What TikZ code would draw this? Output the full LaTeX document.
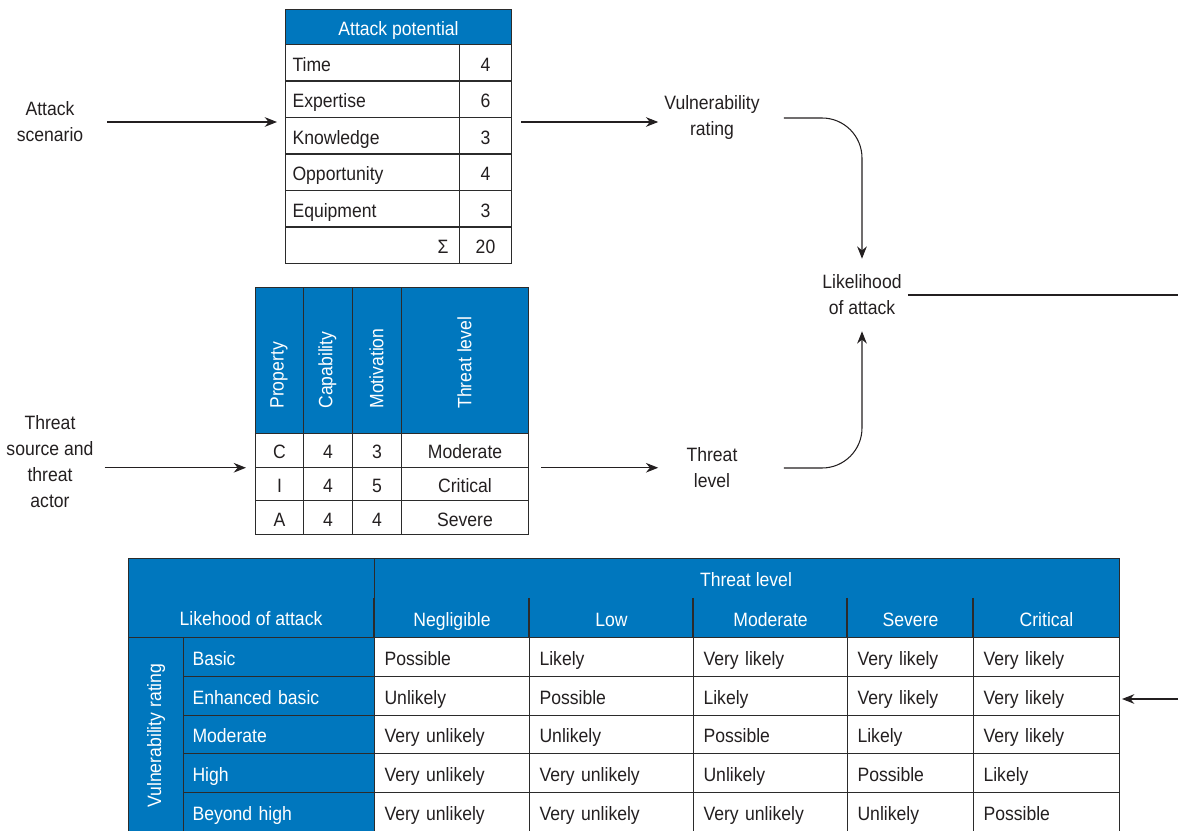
\documentclass[tikz,border=0pt]{standalone}
\usepackage{fontspec}
\setmainfont{Liberation Sans}[FakeStretch=0.91]
\usetikzlibrary{arrows.meta}
\definecolor{hdblue}{HTML}{0077BE}
\definecolor{ink}{HTML}{231F20}
\definecolor{rule}{HTML}{2B2B2B}
\def\pu{0.02cm}

\newcommand\likerow[2]{%
  \foreach \t [count=\j] in {#2} {
    \pgfmathsetmacro\cx{{374,529,693,847,973}[\j-1]}
    \pgfmathsetmacro\cw{{155,164,154,126,146}[\j-1]}
    \pgfmathsetmacro\tw{(\cw-20)*0.02}
    \node[cell,fill=white,minimum width=\cw*\pu,minimum height=38.8*\pu,text width=\tw cm,align=left]
      (lc#1\j) at (\cx,{637+(#1-1)*38.8}) {\t};
  }}

\begin{document}
\begin{tikzpicture}[x=\pu,y=-\pu,font=\fontsize{11}{14.8}\selectfont]
  \tikzset{cell/.style={draw=rule,line width=0.6pt,anchor=north west,inner sep=0pt,text=ink,
      text height=9.6pt,text depth=0pt},
    bcell/.style={cell,fill=hdblue,text=white},
    lbl/.style={align=center,text=ink},
    arr/.style={-{Stealth[length=7pt,width=5.5pt]},line width=0.6pt,draw=ink}}
  \useasboundingbox (0,0) rectangle (1178,831);

  \node[lbl] (scen) at (50,122) {Attack\\scenario};
  \node[lbl] (src) at (50,462) {Threat\\source and\\threat\\actor};
  \node[lbl] (vul) at (712,118) {Vulnerability\\rating};
  \node[lbl] (thr) at (712,468) {Threat\\level};
  \node[lbl] (like) at (862,295) {Likelihood\\of attack};
  \coordinate (rt) at (1178,295);
  \coordinate (rb) at (1178,699);

  \node[bcell,minimum width=226*\pu,minimum height=35*\pu] (aph) at (285,9) {Attack potential};
  \foreach \n/\v [count=\i] in {Time/4,Expertise/6,Knowledge/3,Opportunity/4,Equipment/3} {
    \node[cell,minimum width=174*\pu,minimum height=36.5*\pu,text width=160*\pu,align=left] (apn\i) at (285,{44+(\i-1)*36.5}) {\n};
    \node[cell,minimum width=52*\pu,minimum height=36.5*\pu] (apv\i) at (459,{44+(\i-1)*36.5}) {\v};
  }
  \node[cell,minimum width=174*\pu,minimum height=36.5*\pu,text width=152*\pu,align=right] (apn6) at (285,{44+5*36.5}) {Σ};
  \node[cell,minimum width=52*\pu,minimum height=36.5*\pu] (apv6) at (459,{44+5*36.5}) {20};

  \foreach \t/\x/\w [count=\i] in {Property/255/48,Capability/303/49,Motivation/352/49,Threat level/401/127} {
    \node[bcell,minimum width=\w*\pu,minimum height=146*\pu] (tth\i) at (\x,287) {};
    \node[rotate=90,anchor=west,inner sep=0pt,text=white] (ttl\i) at ({\x+\w/2},409) {\t};
  }
  \foreach \a/\b/\c/\d [count=\i] in {C/4/3/Moderate,I/4/5/Critical,A/4/4/Severe} {
    \node[cell,minimum width=48*\pu,minimum height=33.7*\pu] (tta\i) at (255,{433+(\i-1)*33.7}) {\a};
    \node[cell,minimum width=49*\pu,minimum height=33.7*\pu] (ttb\i) at (303,{433+(\i-1)*33.7}) {\b};
    \node[cell,minimum width=49*\pu,minimum height=33.7*\pu] (ttc\i) at (352,{433+(\i-1)*33.7}) {\c};
    \node[cell,minimum width=127*\pu,minimum height=33.7*\pu] (ttd\i) at (401,{433+(\i-1)*33.7}) {\d};
  }

  \node[bcell,minimum width=991*\pu,minimum height=79*\pu] (lth) at (128,558) {};
  \node[bcell,minimum width=246*\pu,minimum height=79*\pu] (ltc) at (128,558) {};
  \node[text=white] (ltt) at (746,580) {Threat level};
  \node[text=white] (lta) at (251,619) {Likehood of attack};
  \foreach \t/\x/\w [count=\i] in {Negligible/374/155,Low/529/164,Moderate/693/154,Severe/847/126,Critical/973/146} {
    \node[bcell,draw=none,fill=none,minimum width=\w*\pu,minimum height=39*\pu] (lts\i) at (\x,598) {\t};
    \draw[rule,line width=0.6pt] (lts\i.north west) -- (lts\i.south west);
  }
  \node[bcell,minimum width=55*\pu,minimum height=196*\pu] (lrv) at (128,637) {};
  \node[rotate=90,text=white] (lrt) at (lrv.center) {Vulnerability rating};
  \foreach \r [count=\i] in {Basic,Enhanced basic,Moderate,High,Beyond high} {
    \node[bcell,minimum width=191*\pu,minimum height=38.8*\pu,text width=173*\pu,align=left] (vr\i) at (183,{637+(\i-1)*38.8}) {\r};
  }
  \likerow{1}{Possible,Likely,Very likely,Very likely,Very likely}
  \likerow{2}{Unlikely,Possible,Likely,Very likely,Very likely}
  \likerow{3}{Very unlikely,Unlikely,Possible,Likely,Very likely}
  \likerow{4}{Very unlikely,Very unlikely,Unlikely,Possible,Likely}
  \likerow{5}{Very unlikely,Very unlikely,Very unlikely,Unlikely,Possible}

  \draw[arr,shorten <=18*\pu,shorten >=8*\pu] (scen.east) -- (scen.east -| apn1.west);
  \draw[arr,shorten <=9*\pu] (apv3.east |- scen.east) -- (vul.west |- scen.east);
  \draw[arr,shorten <=5*\pu,shorten >=9*\pu] (src.east |- tta1.south) -- (tta1.south west);
  \draw[arr,shorten <=12*\pu] (ttd1.south east) -- (vul.west |- ttd1.south east);
  \draw[arr,rounded corners=40*\pu,shorten <=18*\pu,shorten >=10*\pu] (vul.east) -| (like.north);
  \draw[arr,rounded corners=40*\pu,shorten <=18*\pu,shorten >=10*\pu] (vul.east |- thr.east) -| (like.south);
  \draw[line width=0.6pt,ink] (like.east) -- (rt);
  \draw[arr,shorten >=2*\pu] (rb) -- (rb -| lc25.east);
\end{tikzpicture}
\end{document}
